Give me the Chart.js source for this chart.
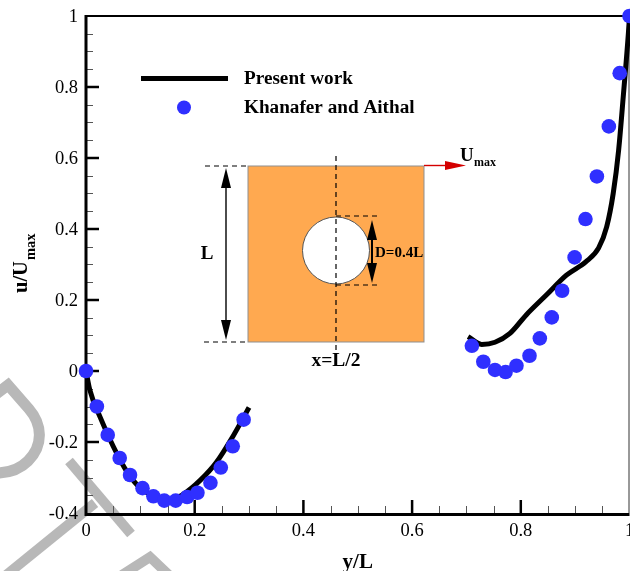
<!DOCTYPE html>
<html>
<head>
<meta charset="utf-8">
<title>u/Umax along x=L/2</title>
<style>
  html, body { margin: 0; padding: 0; background: #fff; overflow: hidden; }
  canvas { display: block; }
</style>
<script src="https://cdn.jsdelivr.net/npm/chart.js@4/dist/chart.umd.min.js"></script>
</head>
<body>
<canvas id="chart1" width="630" height="571"></canvas>
<script>
'use strict';

const xTicks = [0, 0.2, 0.4, 0.6, 0.8, 1];
const yTicks = [-0.4, -0.2, 0, 0.2, 0.4, 0.6, 0.8, 1];

// present work, lower part of the profile and upper part
const lineLowX = [0, 0.007, 0.026, 0.05, 0.075, 0.1, 0.13, 0.155, 0.179, 0.21, 0.24, 0.27, 0.3];
const lineLowY = [0, -0.053, -0.13, -0.212, -0.283, -0.33, -0.355, -0.363, -0.347, -0.308, -0.257, -0.185, -0.103];
const lineHighX = [0.703, 0.728, 0.7525, 0.78, 0.81, 0.847, 0.884, 0.92, 0.943, 0.958, 0.97, 0.98, 0.989, 0.998, 1];
const lineHighY = [0.097, 0.075, 0.081, 0.106, 0.158, 0.214, 0.27, 0.308, 0.346, 0.406, 0.5, 0.622, 0.782, 0.952, 1];

// Khanafer and Aithal
const refX = [0, 0.02, 0.04, 0.062, 0.081, 0.104, 0.124, 0.144, 0.165, 0.186, 0.205, 0.229, 0.248, 0.27, 0.29,
              0.71, 0.731, 0.7525, 0.772, 0.792, 0.816, 0.835, 0.857, 0.876, 0.899, 0.919, 0.94, 0.962, 0.982, 1];
const refY = [0, -0.1, -0.18, -0.245, -0.293, -0.33, -0.353, -0.365, -0.365, -0.355, -0.343, -0.315, -0.272, -0.212, -0.137,
              0.071, 0.026, 0.003, -0.003, 0.015, 0.043, 0.092, 0.151, 0.226, 0.32, 0.428, 0.548, 0.689, 0.839, 1];

const lineName = 'Present work';
const refName = 'Khanafer and Aithal';

const SERIF = '"Liberation Serif", "Times New Roman", serif';
const BLUE = '#2f2fff';

function toPoints(xs, ys) {
    return xs.map(function (x, i) { return { x: x, y: ys[i] }; });
}

function poly(ctx, pts) {
    ctx.beginPath();
    pts.forEach(function (p, i) { i ? ctx.lineTo(p[0], p[1]) : ctx.moveTo(p[0], p[1]); });
    ctx.stroke();
}

function dashed(ctx, x1, y1, x2, y2) {
    ctx.save();
    ctx.strokeStyle = '#000';
    ctx.lineWidth = 1.2;
    ctx.setLineDash([5, 4]);
    poly(ctx, [[x1, y1], [x2, y2]]);
    ctx.restore();
}

function head(ctx, x, y, dx, dy, len, half, color) {
    ctx.fillStyle = color;
    ctx.beginPath();
    ctx.moveTo(x, y);
    ctx.lineTo(x - dx * len - dy * half, y - dy * len - dx * half);
    ctx.lineTo(x - dx * len + dy * half, y - dy * len + dx * half);
    ctx.closePath();
    ctx.fill();
}

function label(ctx, text, x, y, font, align) {
    ctx.font = font;
    ctx.fillStyle = '#000';
    ctx.textAlign = align || 'left';
    ctx.textBaseline = 'alphabetic';
    ctx.fillText(text, x, y);
}

// grey stamp that lies behind the figure
const watermark = {
    id: 'watermark',
    beforeDraw: function (chart) {
        const ctx = chart.ctx;
        ctx.save();
        ctx.fillStyle = '#fff';
        ctx.fillRect(0, 0, chart.width, chart.height);
        ctx.strokeStyle = '#b8b8b8';
        ctx.lineWidth = 11;
        ctx.lineJoin = 'miter';
        ctx.beginPath();
        ctx.moveTo(-4, 394);
        ctx.lineTo(8, 385);
        ctx.lineTo(29, 409);
        ctx.bezierCurveTo(42, 424, 44, 445, 28, 461);
        ctx.bezierCurveTo(20, 469, 10, 473, -4, 473);
        ctx.stroke();
        ctx.lineWidth = 10;
        poly(ctx, [[69, 461], [131, 534]]);
        poly(ctx, [[95, 503], [5, 576]]);
        poly(ctx, [[122, 575], [150, 557], [172, 578]]);
        ctx.restore();
    }
};

// frame, inward ticks, legend, schematic and the y title
const decor = {
    id: 'decor',
    beforeDatasetsDraw: function (chart) {
        const ctx = chart.ctx, a = chart.chartArea;
        const sx = chart.scales.x, sy = chart.scales.y;
        ctx.save();

        ctx.strokeStyle = '#333';
        ctx.lineWidth = 1;
        poly(ctx, [[a.right - 0.5, a.top], [a.right - 0.5, a.bottom]]);
        ctx.strokeStyle = '#000';
        ctx.lineWidth = 2;
        poly(ctx, [[a.left, a.top], [a.right, a.top]]);

        xTicks.forEach(function (v, i) {
            const p = sx.getPixelForValue(v);
            ctx.strokeStyle = '#000';
            ctx.lineWidth = 2.5;
            if (i > 0 && i < xTicks.length - 1) poly(ctx, [[p, a.bottom], [p, a.bottom - 13]]);
            if (i === xTicks.length - 1) return;
            ctx.strokeStyle = '#555';
            ctx.lineWidth = 1;
            [0.05, 0.1, 0.15].forEach(function (m) {
                const q = Math.round(sx.getPixelForValue(v + m)) + 0.5;
                poly(ctx, [[q, a.bottom], [q, a.bottom - 7]]);
            });
        });
        yTicks.forEach(function (v, i) {
            const p = sy.getPixelForValue(v);
            ctx.strokeStyle = '#000';
            ctx.lineWidth = 2.5;
            if (i > 0 && i < yTicks.length - 1) poly(ctx, [[a.left, p], [a.left + 13, p]]);
            if (i === yTicks.length - 1) return;
            ctx.strokeStyle = '#555';
            ctx.lineWidth = 1;
            [0.05, 0.1, 0.15].forEach(function (m) {
                const q = Math.round(sy.getPixelForValue(v + m)) + 0.5;
                poly(ctx, [[a.left, q], [a.left + 7, q]]);
            });
        });

        ctx.strokeStyle = '#000';
        ctx.lineWidth = 3;
        poly(ctx, [[a.left, a.top - 1], [a.left, a.bottom + 1.5], [a.right, a.bottom + 1.5]]);

        // schematic
        ctx.fillStyle = '#ffa950';
        ctx.strokeStyle = '#8f8f8f';
        ctx.lineWidth = 1;
        ctx.fillRect(248, 166, 176, 176);
        ctx.strokeRect(248, 166, 176, 176);
        ctx.beginPath();
        ctx.arc(336, 250.5, 33.5, 0, Math.PI * 2);
        ctx.fillStyle = '#fff';
        ctx.fill();
        ctx.strokeStyle = '#555';
        ctx.stroke();

        dashed(ctx, 336, 156, 336, 352);
        dashed(ctx, 205, 166, 248, 166);
        dashed(ctx, 204, 342, 248, 342);
        dashed(ctx, 336, 216, 380, 216);
        dashed(ctx, 336, 285, 380, 285);

        ctx.strokeStyle = '#000';
        ctx.lineWidth = 1.4;
        poly(ctx, [[226, 180], [226, 330]]);
        head(ctx, 226, 168, 0, -1, 20, 5, '#000');
        head(ctx, 226, 340, 0, 1, 20, 5, '#000');
        ctx.lineWidth = 2;
        poly(ctx, [[372, 230], [372, 270]]);
        head(ctx, 372, 220, 0, -1, 20, 5, '#000');
        head(ctx, 372, 283, 0, 1, 20, 5, '#000');

        ctx.strokeStyle = '#d40000';
        ctx.lineWidth = 1.4;
        poly(ctx, [[424, 165.5], [450, 165.5]]);
        head(ctx, 466, 165.5, 1, 0, 21, 4.5, '#d40000');

        label(ctx, 'L', 207, 259, 'bold 19px ' + SERIF, 'center');
        label(ctx, 'D=0.4L', 375, 257, 'bold 15px ' + SERIF);
        label(ctx, 'x=L/2', 336, 366, 'bold 19.5px ' + SERIF, 'center');
        label(ctx, 'U', 460, 161, 'bold 19px ' + SERIF);
        label(ctx, 'max', 474, 166, 'bold 12px ' + SERIF);

        // legend
        ctx.strokeStyle = '#000';
        ctx.lineWidth = 5;
        poly(ctx, [[141, 78.5], [228, 78.5]]);
        ctx.fillStyle = BLUE;
        ctx.beginPath();
        ctx.arc(184, 107.5, 7, 0, Math.PI * 2);
        ctx.fill();
        label(ctx, lineName, 244, 84, 'bold 19.2px ' + SERIF);
        label(ctx, refName, 244, 113, 'bold 19.2px ' + SERIF);

        // y title, the subscript needs two runs
        ctx.translate(27, 293);
        ctx.rotate(-Math.PI / 2);
        label(ctx, 'u/U', 0, 0, 'bold 20.5px ' + SERIF);
        label(ctx, 'max', 33, 8, 'bold 14.5px ' + SERIF);
        ctx.restore();
    }
};

function tickText(v) {
    return String(+Number(v).toFixed(1));
}

const chartData1 = {
    type: 'scatter',
    data: {
        datasets: [
            {
                label: refName,
                data: toPoints(refX, refY),
                showLine: false,
                pointRadius: 7.3,
                pointBackgroundColor: BLUE,
                pointBorderWidth: 0,
                clip: false,
                order: 1
            },
            {
                label: lineName,
                data: toPoints(lineLowX, lineLowY),
                showLine: true,
                borderColor: '#000',
                borderWidth: 5,
                cubicInterpolationMode: 'monotone',
                pointRadius: 0,
                clip: false,
                order: 2
            },
            {
                label: lineName,
                data: toPoints(lineHighX, lineHighY),
                showLine: true,
                borderColor: '#000',
                borderWidth: 5,
                cubicInterpolationMode: 'monotone',
                pointRadius: 0,
                clip: false,
                order: 2
            }
        ]
    },
    options: {
        responsive: false,
        animation: false,
        events: [],
        layout: { autoPadding: false, padding: { top: 16, right: 0.5, left: 0, bottom: 0 } },
        plugins: { legend: { display: false }, tooltip: { enabled: false } },
        scales: {
            x: {
                type: 'linear',
                min: 0,
                max: 1,
                grid: { display: false },
                border: { display: false },
                afterBuildTicks: function (scale) {
                    scale.ticks = xTicks.map(function (v) { return { value: v }; });
                },
                afterFit: function (scale) {
                    scale.height = 58;
                    scale.paddingLeft = 0;
                    scale.paddingRight = 0;
                },
                ticks: {
                    autoSkip: false,
                    maxRotation: 0,
                    padding: -1,
                    color: '#000',
                    font: { family: SERIF, size: 18.5 },
                    callback: tickText
                },
                title: {
                    display: true,
                    text: 'y/L',
                    color: '#000',
                    font: { family: SERIF, size: 21, weight: 'bold' },
                    padding: { top: 0, bottom: -4 }
                }
            },
            y: {
                type: 'linear',
                min: -0.4,
                max: 1,
                grid: { display: false },
                border: { display: false },
                afterBuildTicks: function (scale) {
                    scale.ticks = yTicks.map(function (v) { return { value: v }; });
                },
                afterFit: function (scale) {
                    scale.width = 86;
                    scale.paddingTop = 0;
                    scale.paddingBottom = 0;
                },
                ticks: {
                    autoSkip: false,
                    padding: 0,
                    labelOffset: 1.5,
                    color: '#000',
                    font: { family: SERIF, size: 18.5 },
                    callback: tickText
                }
            }
        }
    },
    plugins: [watermark, decor]
};

window.onload = function () {
    new Chart(document.getElementById('chart1'), chartData1);
};
</script>
</body>
</html>
